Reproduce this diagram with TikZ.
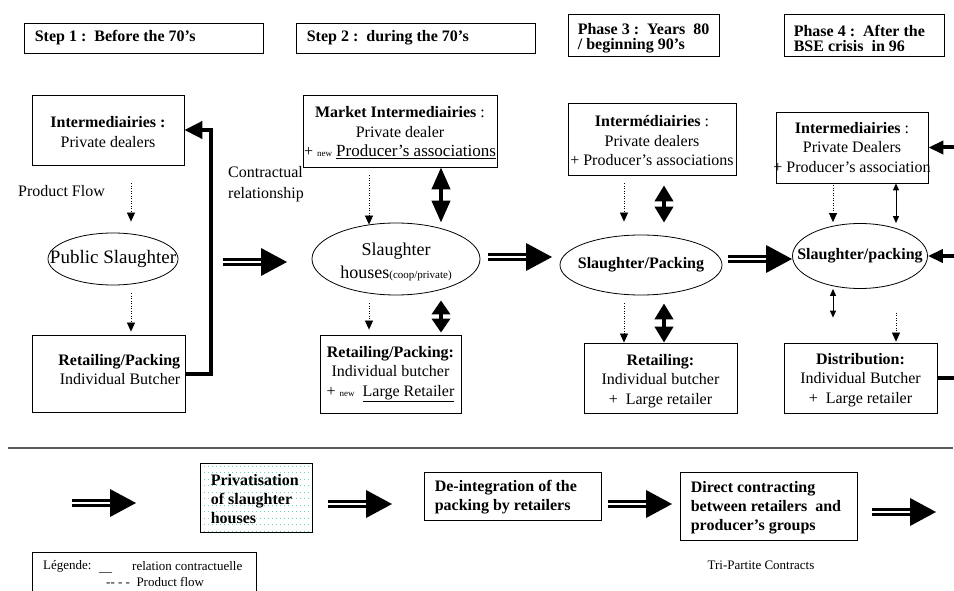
\documentclass[tikz,border=0pt]{standalone}
\usepackage{fontspec}
\setmainfont{Liberation Serif}
\usetikzlibrary{arrows.meta,shapes.geometric}
\newcommand\fsz[2]{\fontsize{#1}{#2}\selectfont}
\definecolor{mint}{RGB}{100,215,185}
\definecolor{sepgray}{RGB}{90,90,90}
\begin{document}
\begin{tikzpicture}[x=1pt,y=-1pt,
  box/.style={draw, line width=0.8pt, inner sep=0pt, rectangle},
  ell/.style={draw, line width=0.8pt, ellipse, inner sep=0pt},
  txt/.style={inner sep=0pt, align=center, font=\fsz{16}{19.5}},
  btxt/.style={inner sep=0pt, align=left, font=\bfseries\fsz{16}{19.2}},
  hdr/.style={inner sep=0pt, align=left, font=\bfseries\fsz{16}{15}},
  small/.style={inner sep=0pt, font=\fsz{13}{15}},
  thickc/.style={line width=4pt},
  dotarr/.style={line width=0.7pt, dash pattern=on 1pt off 1.5pt, arrows={-Triangle[length=9pt,width=8pt]}},
  dblthick/.style={line width=4pt, arrows={Triangle[length=#1,width=18pt]-Triangle[length=#1,width=18pt]}},
  thindbl/.style={line width=1pt, arrows={Triangle[length=7pt,width=6pt]-Triangle[length=7pt,width=6pt]}},
  fat/.pic={\draw[line width=2.6pt, double=white, double distance=2pt] (0,0) -- (39,0);
            \fill (38,-14) -- (64,0) -- (38,14) -- cycle;}
]
\useasboundingbox (0,0) rectangle (954,591);

% column x positions for vertical connectors
\coordinate (x1) at (131,0);
\coordinate (x2a) at (369,0);
\coordinate (x2b) at (441,0);
\coordinate (x3a) at (624,0);
\coordinate (x3b) at (664,0);
\coordinate (x4a) at (833,0);
\coordinate (x4b) at (896,0);

% ---------------- headers
\node[box, minimum width=239pt, minimum height=30pt] (h1) at (143.5,38) {};
\node[hdr, anchor=west] (h1t) at ([xshift=11pt]h1.west) {Step 1 :\ \ Before the 70's};
\node[box, minimum width=239pt, minimum height=30pt] (h2) at (415.5,38) {};
\node[hdr, anchor=west] (h2t) at ([xshift=11pt]h2.west) {Step 2 :\ \ during the 70's};
\node[box, minimum width=151pt, minimum height=42pt] (h3) at (643.5,35) {};
\node[hdr, anchor=west] (h3t) at ([xshift=10pt, yshift=-3pt]h3.west) {Phase 3 :\ \ Years\ \ 80\\/ beginning 90's};
\node[box, minimum width=160pt, minimum height=42pt] (h4) at (864,35) {};
\node[hdr, anchor=west] (h4t) at ([xshift=10pt, yshift=-3pt]h4.west) {Phase 4 :\ \ After the\\BSE crisis\ \ in 96};

% ---------------- column 1
\node[box, minimum width=152pt, minimum height=70pt,
      label={[txt, yshift=-2pt]center:{\textbf{Intermediairies :}\\Private dealers}}] (int1) at (108,130) {};
\node[txt, anchor=west] (pf) at (18,191) {Product Flow};
\node[ell, minimum width=130pt, minimum height=52pt,
      label={[txt, font=\fsz{19}{22}]center:Public Slaughter}] (ps1) at (113,259) {};
\node[box, minimum width=153pt, minimum height=77pt] (ret1) at (108.5,373.5) {};
\node[txt, align=right, anchor=east] (ret1t) at ([xshift=-5pt, yshift=4pt]ret1.east) {\textbf{Retailing/Packing}\\Individual Butcher};
\draw[dotarr, shorten <=18pt, shorten >=11pt] (int1.south -| x1) -- (ps1.north -| x1);
\draw[dotarr, shorten <=8pt, shorten >=3pt] (ps1.south -| x1) -- (ret1.north -| x1);
\draw[thickc, arrows={-Triangle[length=18pt,width=17pt]}] (ret1.east) -- ++(26,0) |- (int1.east);

\node[txt, align=left, anchor=west, font=\fsz{16}{21.5}] (cr) at (228,184) {Contractual\\relationship};
\pic at (223,262) {fat};

% ---------------- column 2
\node[box, minimum width=194pt, minimum height=72pt,
      label={[txt, yshift=-2pt]center:{\textbf{Market Intermediairies} :\\Private dealer\\+ {\fsz{9}{9}new} {\fsz{17}{19.5}\underline{Producer's associations}}}}] (int2) at (400,131) {};
\node[ell, minimum width=168pt, minimum height=72pt,
      label={[txt, font=\fsz{18}{23}, yshift=-3pt]center:{Slaughter\\houses{\fsz{11}{11}(coop/private)}}}] (sl2) at (396,259) {};
\node[box, minimum width=141pt, minimum height=78pt,
      label={[txt]center:{\textbf{Retailing/Packing:}\\Individual butcher\\+ {\fsz{9}{9}new}\ \ \underline{Large Retailer}}}] (ret2) at (390.5,374) {};
\draw[dotarr, shorten <=8pt, shorten >=-2pt] (int2.south -| x2a) -- (sl2.north -| x2a);
\draw[dblthick=22pt] (int2.south -| x2b) -- (sl2.north -| x2b);
\draw[dotarr, shorten <=8pt, shorten >=5pt] (sl2.south -| x2a) -- (ret2.north -| x2a);
\draw[dblthick=14pt, shorten <=5pt, shorten >=2pt] (sl2.south -| x2b) -- (ret2.north -| x2b);
\pic at (488,257) {fat};

% ---------------- column 3
\node[box, minimum width=168pt, minimum height=72pt,
      label={[txt, yshift=-2pt]center:{\textbf{Intermédiairies} :\\Private dealers\\+ Producer's associations}}] (int3) at (652,139) {};
\node[ell, minimum width=162pt, minimum height=60pt,
      label={[txt, font=\bfseries\fsz{16}{19}]center:Slaughter/Packing}] (sl3) at (641,265) {};
\node[box, minimum width=153pt, minimum height=70pt,
      label={[txt, yshift=-3pt]center:{\textbf{Retailing:}\\Individual butcher\\+\ \ Large retailer}}] (ret3) at (660.5,378) {};
\draw[dotarr, shorten <=8pt, shorten >=13pt] (int3.south -| x3a) -- (sl3.north -| x3a);
\draw[dblthick=16pt, shorten <=10pt, shorten >=12pt] (int3.south -| x3b) -- (sl3.north -| x3b);
\draw[dotarr, shorten <=8pt] (sl3.south -| x3a) -- (ret3.north -| x3a);
\draw[dblthick=16pt, shorten <=8pt] (sl3.south -| x3b) -- (ret3.north -| x3b);
\pic at (728,259) {fat};

% ---------------- column 4
\node[box, minimum width=152pt, minimum height=71pt,
      label={[txt]center:{\textbf{Intermediairies} :\\Private Dealers\\+ Producer's association}}] (int4) at (852,147.5) {};
\node[ell, minimum width=135pt, minimum height=65pt,
      label={[txt, font=\bfseries\fsz{16}{19}]center:Slaughter/packing}] (sl4) at (860,256) {};
\node[box, minimum width=153pt, minimum height=70pt,
      label={[txt, yshift=-2pt]center:{\textbf{Distribution:}\\Individual Butcher\\+\ \ Large retailer}}] (dist4) at (860.5,378) {};
\draw[dotarr, shorten <=2pt, shorten >=1pt] (int4.south -| x4a) -- (sl4.north -| x4a);
\draw[thindbl] (int4.south -| x4b) -- (sl4.north -| x4b);
\draw[thindbl, shorten >=25pt] (sl4.south -| x4a) -- (dist4.north -| x4a);
\draw[dotarr, shorten <=24pt, shorten >=1pt] (sl4.south -| x4b) -- (dist4.north -| x4b);
\coordinate (e1) at (958,147.5);
\coordinate (e2) at (958,256);
\draw[thickc, arrows={-Triangle[length=15pt,width=13pt]}] (e1) -- (int4.east);
\draw[thickc, arrows={-Triangle[length=15pt,width=13pt]}] (e2) -- (sl4.east);
\draw[thickc] (dist4.east) -- ++(25,0);

% ---------------- separator
\draw[sepgray, line width=1.2pt] (8,448) -- (953,448);

% ---------------- bottom row
\pic at (72,503) {fat};
\begin{scope}
  \clip (200,463) rectangle (312,532);
  \foreach \yy in {466,472.5,...,532}
    \draw[mint, line width=1pt, dash pattern=on 1pt off 3pt] (200,\yy) -- (312,\yy);
\end{scope}
\node[box, minimum width=112pt, minimum height=69pt] (priv) at (256,497.5) {};
\node[btxt, anchor=west] (privt) at ([xshift=11pt, yshift=-1.5pt]priv.west) {Privatisation\\of slaughter\\houses};
\pic at (328,504) {fat};
\node[box, minimum width=177pt, minimum height=48pt] (deint) at (512.5,496) {};
\node[btxt, anchor=west] (deintt) at ([xshift=11pt, yshift=-1.5pt]deint.west) {De-integration of the\\packing by retailers};
\pic at (608,504) {fat};
\node[box, minimum width=177pt, minimum height=68pt] (direct) at (768.5,506) {};
\node[btxt, anchor=west] (directt) at ([xshift=11pt, yshift=-1.5pt]direct.west) {Direct contracting\\between retailers\ \ and\\producer's groups};
\pic at (872,512) {fat};
\node[small] (tri) at (761,565) {Tri-Partite Contracts};

% ---------------- legend
\draw[line width=0.8pt] (32,600) -- (32,552) -- (256,552) -- (256,600);
\node[small, anchor=west] (lg1) at (43,566) {Légende:};
\node[small, anchor=west] (lg2) at (99,572) {\_\_};
\node[small, anchor=west] (lg3) at (132,566) {relation contractuelle};
\node[small, anchor=west] (lg4) at (106,582) {-{}- - -\ \ Product flow};
\end{tikzpicture}
\end{document}
